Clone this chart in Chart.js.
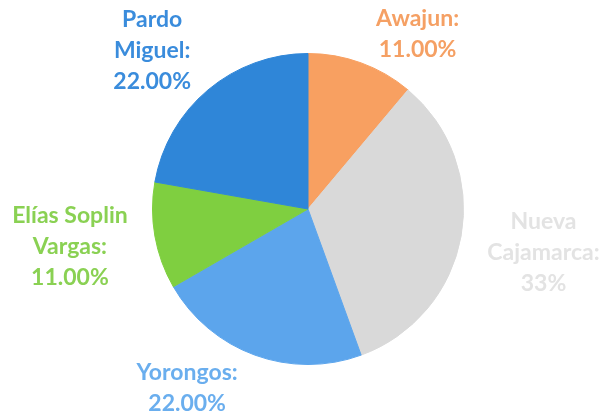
<!DOCTYPE html>
<html>
<head>
<meta charset="utf-8">
<script src="https://cdn.jsdelivr.net/npm/chart.js@4/dist/chart.umd.min.js"></script>
<style>
  html, body { margin: 0; padding: 0; background: #fff; }
  #wrap { width: 600px; height: 416px; position: relative; }
</style>
</head>
<body>
<div id="wrap"><canvas id="pie"></canvas></div>
<script>
const districts = ['Awajun', 'Nueva Cajamarca', 'Yorongos', 'Elías Soplin Vargas', 'Pardo Miguel'];
const shares = [11, 33, 22, 11, 22];
const shareText = ['11.00%', '33%', '22.00%', '11.00%', '22.00%'];
const labelLines = [['Awajun:'], ['Nueva', 'Cajamarca:'], ['Yorongos:'], ['Elías Soplin', 'Vargas:'], ['Pardo', 'Miguel:']];

const sliceColors = ['#f8a061', '#d9d9d9', '#5ca5ec', '#7fcf40', '#2f86d8'];
const textColors = ['#f5a064', '#e3e3e3', '#6aaeee', '#8ad153', '#3a8cdc'];
// label placement: angle shift (deg) from slice middle, distance as multiple of radius
const labelPlace = [[12, 1.33], [0.5, 1.54], [14, 1.39], [1, 1.55], [-4.5, 1.43]];

const outsideLabels = {
  id: 'outsideLabels',
  afterDraw(chart){
    const ctx = chart.ctx;
    const arcs = chart.getDatasetMeta(0).data;
    ctx.save();
    ctx.font = 'bold 23px Lato';
    ctx.textAlign = 'center';
    ctx.textBaseline = 'middle';
    arcs.forEach((arc, i) => {
      const mid = (arc.startAngle + arc.endAngle) / 2 + labelPlace[i][0] * Math.PI / 180;
      const d = arc.outerRadius * labelPlace[i][1];
      const x = arc.x + Math.cos(mid) * d;
      const y = arc.y + Math.sin(mid) * d;
      const lines = labelLines[i].concat([shareText[i]]);
      const lh = 31;
      const top = y - (lines.length - 1) * lh / 2;
      ctx.fillStyle = textColors[i];
      lines.forEach((t, k) => ctx.fillText(t, x, top + k * lh));
    });
    ctx.restore();
  }
};

new Chart(document.getElementById('pie'), {
  type: 'pie',
  data: {
    labels: districts,
    datasets: [{
      data: shares,
      backgroundColor: sliceColors,
      borderColor: sliceColors,
      borderWidth: 1
    }]
  },
  options: {
    responsive: true,
    maintainAspectRatio: false,
    animation: false,
    layout: { padding: { top: 53, bottom: 51, left: 16, right: 0 } },
    plugins: { legend: { display: false }, tooltip: { enabled: false } }
  },
  plugins: [outsideLabels]
});
</script>
</body>
</html>
